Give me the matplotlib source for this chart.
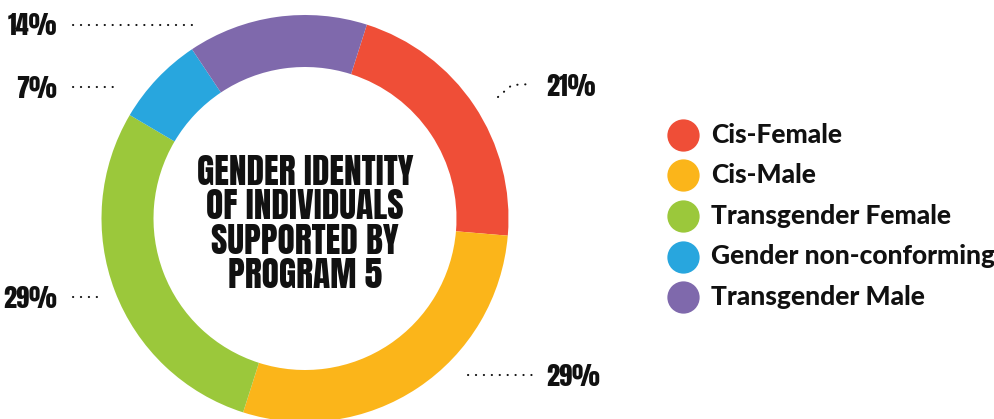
import matplotlib
matplotlib.use("Agg")
import matplotlib.pyplot as plt

# data
categories = ["Cis-Female", "Cis-Male", "Transgender Female",
              "Gender non-conforming", "Transgender Male"]
counts = [3, 4, 4, 1, 2]
colors = ["#EF4E37", "#FBB51A", "#9BC83B", "#28A6DE", "#7F69AC"]
title_lines = ["GENDER IDENTITY", "OF INDIVIDUALS", "SUPPORTED BY", "PROGRAM 5"]

W, H = 994, 419
fig = plt.figure(figsize=(W / 100, H / 100), dpi=100)
ax = fig.add_axes([0, 0, 1, 1])

cx, cy = 305, H - 218.5
r_out, ring = 203.5, 52

ax.pie(counts, colors=colors, startangle=72.3, counterclock=False,
       center=(cx, cy), radius=r_out, frame=True,
       wedgeprops=dict(width=ring, linewidth=0))
ax.set_xlim(0, W)
ax.set_ylim(0, H)
ax.set_aspect("equal")
ax.axis("off")

narrow = ["Anton", "Fjalla One", "Bebas Neue", "DejaVu Sans"]
for i, line in enumerate(title_lines):
    ax.text(cx, H - (172 + i * 34.3), line, ha="center", va="center",
            fontsize=25.5, family=narrow, color="#111111")

# percentage callouts (label pos, dotted leader)
total = sum(counts)
pcts = ["%d%%" % round(c * 100 / total) for c in counts]
callouts = [
    # (text x, text y, ha, leader xs, leader ys)
    (546, 86, "left", [498, 506, 512, 533], [97, 90, 85, 84]),
    (546, 376, "left", [468, 533], [375, 375]),
    (57, 298, "right", [73, 97], [297, 297]),
    (57, 88, "right", [73, 115], [87, 87]),
    (57, 26, "right", [73, 195], [25, 25]),
]
for pct, (tx, ty, ha, lx, ly) in zip(pcts, callouts):
    ax.text(tx, H - ty, pct, ha=ha, va="center", fontsize=19,
            family=narrow, color="#111111")
    ax.plot(lx, [H - y for y in ly], color="#111111", lw=1.5,
            linestyle=(0, (0.1, 3.7)), dash_capstyle="round")

# legend
for i, (lab, col) in enumerate(zip(categories, colors)):
    y = H - (135 + i * 40.5)
    ax.scatter([683], [y], s=540, color=col, linewidths=0)
    ax.text(711, y, lab, ha="left", va="center", fontsize=19,
            fontweight="black", family=["Lato", "DejaVu Sans"],
            color="#111111")

fig.savefig("out.png", dpi=100, facecolor="white")
